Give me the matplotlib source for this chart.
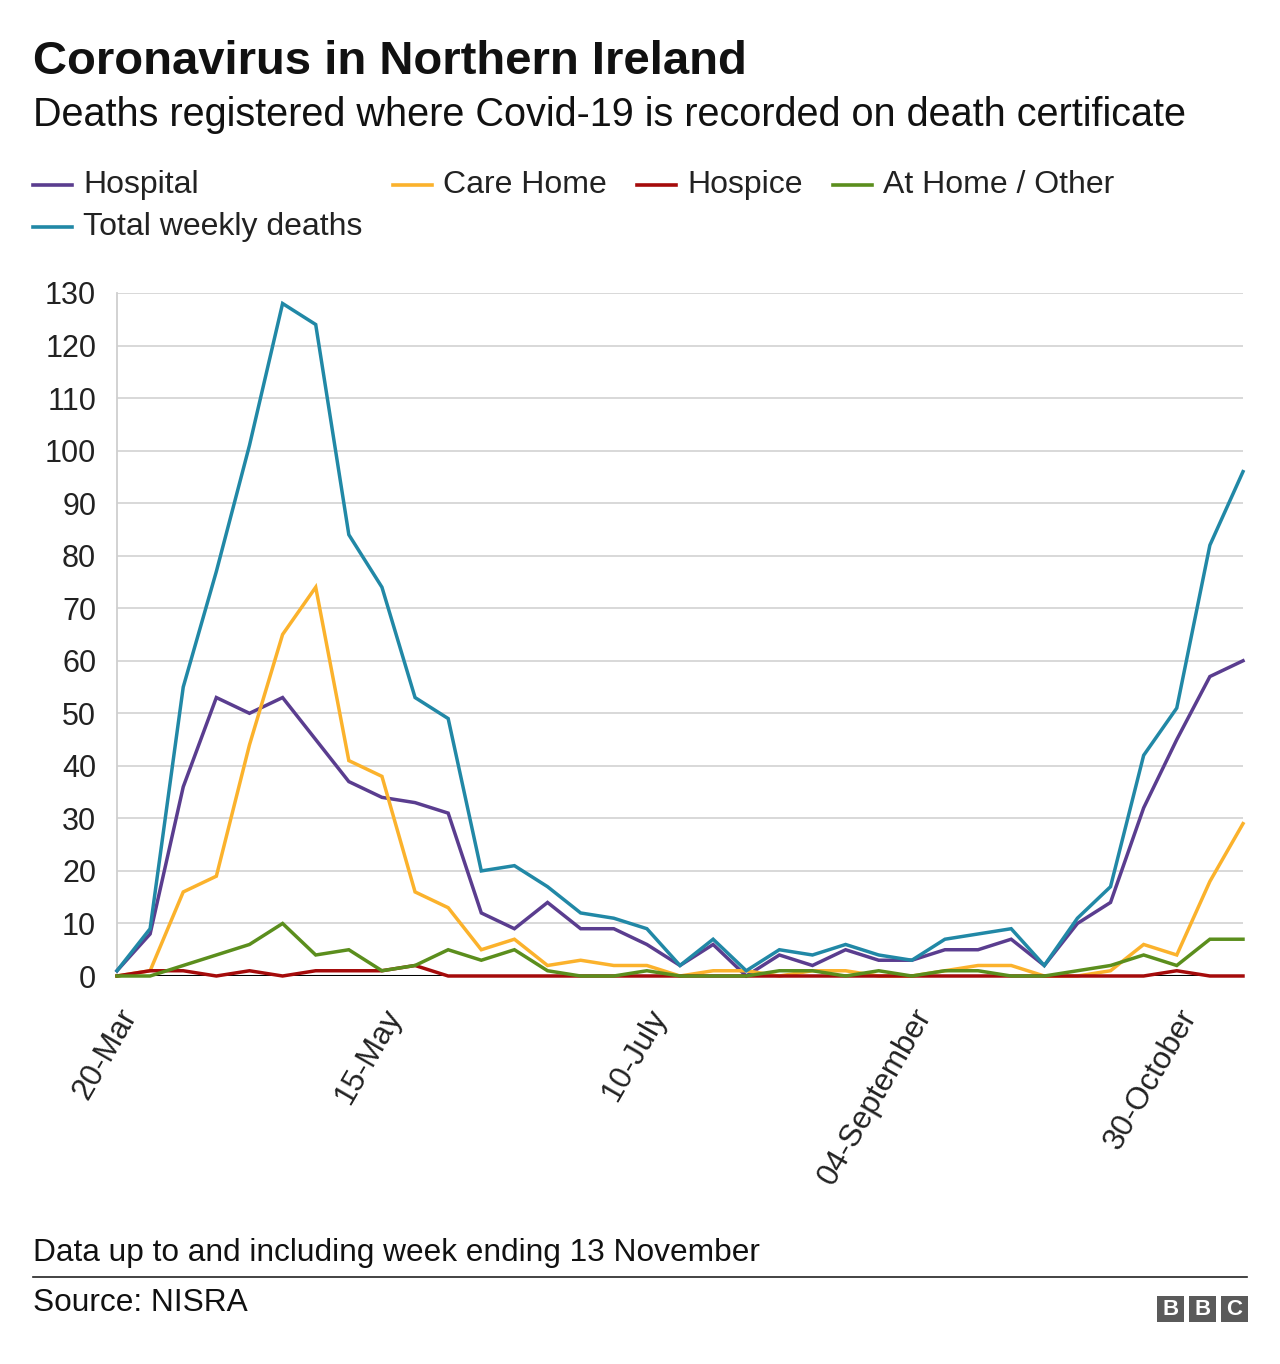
import matplotlib
matplotlib.use("Agg")
import matplotlib.pyplot as plt
from matplotlib.lines import Line2D
from matplotlib.patches import Rectangle
import numpy as np

plt.rcParams['font.family'] = ['Liberation Sans', 'DejaVu Sans']

# ---- data (weekly deaths, week ending 20 Mar to 13 Nov) ----
hospital  = [1, 8, 36, 53, 50, 53, 45, 37, 34, 33, 31, 12, 9, 14, 9, 9, 6, 2, 6, 0, 4, 2, 5, 3, 3, 5, 5, 7, 2, 10, 14, 32, 45, 57, 60]
care_home = [0, 1, 16, 19, 44, 65, 74, 41, 38, 16, 13, 5, 7, 2, 3, 2, 2, 0, 1, 1, 0, 1, 1, 0, 0, 1, 2, 2, 0, 0, 1, 6, 4, 18, 29]
hospice   = [0, 1, 1, 0, 1, 0, 1, 1, 1, 2, 0, 0, 0, 0, 0, 0, 0, 0, 0, 0, 0, 0, 0, 0, 0, 0, 0, 0, 0, 0, 0, 0, 1, 0, 0]
at_home   = [0, 0, 2, 4, 6, 10, 4, 5, 1, 2, 5, 3, 5, 1, 0, 0, 1, 0, 0, 0, 1, 1, 0, 1, 0, 1, 1, 0, 0, 1, 2, 4, 2, 7, 7]
total     = [1, 9, 55, 77, 101, 128, 124, 84, 74, 53, 49, 20, 21, 17, 12, 11, 9, 2, 7, 1, 5, 4, 6, 4, 3, 7, 8, 9, 2, 11, 17, 42, 51, 82, 96]

tick_positions = [0, 8, 16, 24, 32]
tick_labels = ["20-Mar", "15-May", "10-July", "04-September", "30-October"]
y_ticks = [0, 10, 20, 30, 40, 50, 60, 70, 80, 90, 100, 110, 120, 130]

series_names = ["Hospital", "Care Home", "Hospice", "At Home / Other", "Total weekly deaths"]
colors = ["#5a3d8f", "#fbb22c", "#a50b0b", "#5b8e1d", "#2188a6"]

W, H = 1280, 1364
fig = plt.figure(figsize=(W / 100, H / 100), dpi=100)

def fx(px):
    return px / W

def fy(py):
    return 1 - py / H

ax = fig.add_axes([fx(117), fy(976), fx(1243) - fx(117), fy(293) - fy(976)])
x = np.arange(len(total))

ax.axhline(0, color="black", lw=2.2, zorder=1)
for vals, col in zip([hospital, care_home, hospice, at_home, total], colors):
    ax.plot(x, vals, color=col, lw=2.5, zorder=3, clip_on=False, solid_joinstyle='miter')

ax.set_xlim(0, len(total) - 1)
ax.set_ylim(0, 130)
ax.set_yticks(y_ticks)
ax.set_yticklabels([str(v) for v in y_ticks], fontsize=22, color="#222222")
ax.grid(axis='y', color="#d6d6d6", lw=1.3, zorder=0)
ax.set_axisbelow(True)
ax.set_xticks(tick_positions)
ax.set_xticklabels(tick_labels, rotation=60, ha='right', va='top', rotation_mode='anchor',
                   fontsize=22.5, color="#222222")
ax.tick_params(axis='both', length=0)
ax.tick_params(axis='y', pad=15)
ax.tick_params(axis='x', pad=20)
for s in ['top', 'right', 'bottom']:
    ax.spines[s].set_visible(False)
ax.spines['left'].set_color("#cfcfcf")
ax.spines['left'].set_linewidth(1.3)

# ---- titles ----
fig.text(fx(33), fy(62), "Coronavirus in Northern Ireland", fontsize=34, fontweight='bold',
         color="#111111", va='center', ha='left')
fig.text(fx(33), fy(115), "Deaths registered where Covid-19 is recorded on death certificate",
         fontsize=28.5, color="#111111", va='center', ha='left')

# ---- legend ----
legend_pos = [(33, 185), (393, 185), (637, 185), (833, 185), (33, 227)]
for (lx, ly), name, col in zip(legend_pos, series_names, colors):
    fig.add_artist(Line2D([fx(lx), fx(lx + 39)], [fy(ly), fy(ly)], color=col, lw=2.6))
    fig.text(fx(lx + 50), fy(ly), name, fontsize=23, color="#222222", va='center', ha='left')

# ---- footer ----
fig.text(fx(33), fy(1253), "Data up to and including week ending 13 November", fontsize=22.8,
         color="#111111", va='center', ha='left')
fig.add_artist(Line2D([fx(33), fx(1247)], [fy(1277), fy(1277)], color="#222222", lw=1.2))
fig.text(fx(33), fy(1303), "Source: NISRA", fontsize=22.8, color="#111111", va='center', ha='left')

for i, letter in enumerate("BBC"):
    bx = 1157 + i * 32
    fig.add_artist(Rectangle((fx(bx), fy(1322)), fx(27), fy(1296) - fy(1322),
                             facecolor="#5a5a5a", edgecolor='none'))
    fig.text(fx(bx + 13.5), fy(1309.5), letter, fontsize=16, fontweight='bold',
             color="white", va='center', ha='center')

fig.savefig("out.png", dpi=100, facecolor="white")
